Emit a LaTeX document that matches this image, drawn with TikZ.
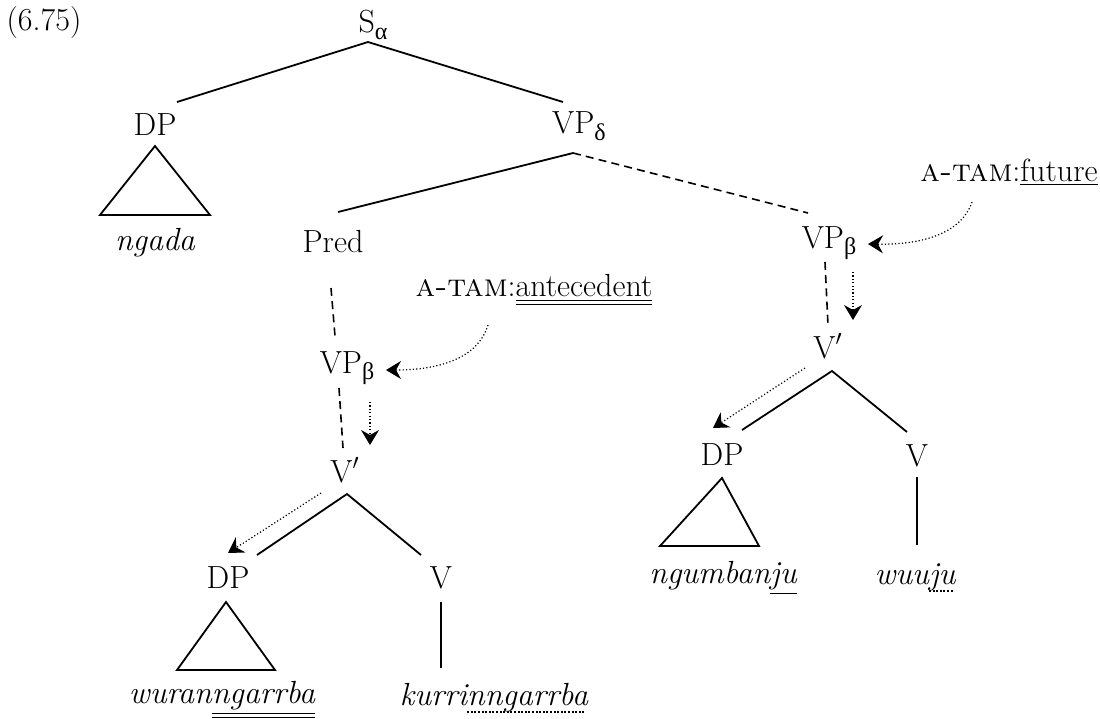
\documentclass[tikz,border=0pt]{standalone}
\usepackage{fontspec}
\newfontfamily\grk{Liberation Serif}
\usetikzlibrary{arrows.meta}
\newcommand\myul[1]{\underline{#1}}
\newcommand\myuul[1]{\underline{\underline{#1}}}
\newcommand\mydotul[1]{\setbox0\hbox{#1}\leavevmode\rlap{\raisebox{-3.6pt}{\hbox to \wd0{\leaders\hbox to 1.8pt{\rule{1pt}{1pt}\hss}\hfill}}}\box0}
\newcommand\gsub[1]{\raisebox{-3.2pt}{\fontsize{12}{12}\selectfont\grk #1}}
\tikzset{
  lbl/.style={inner sep=0pt, font=\fontsize{16}{19}\selectfont},
  edge/.style={line width=0.9pt},
  dashedge/.style={line width=0.8pt, dash pattern=on 4pt off 2.6pt},
  dotarrow/.style={line width=0.6pt, dash pattern=on 0.6pt off 1.1pt,
     -{Stealth[length=7.5pt,width=9pt,inset=2.5pt]}},
  tri/.style={line width=0.9pt, line join=miter}
}
\begin{document}
\begin{tikzpicture}[x=0.5pt,y=-0.5pt]
\useasboundingbox (0,0) rectangle (1100,719);
% nodes
\node[lbl] (num) at (44,23) {(6.75)};
\node[lbl] (S) at (373,25) {S\gsub{α}};
\node[lbl] (DPa) at (155,125) {DP};
\node[lbl] (VPd) at (579,126) {VP\gsub{δ}};
\node[lbl] (ngada) at (155,243) {\itshape ngada};
\node[lbl] (Pred) at (333,242) {Pred};
\node[lbl] (VPb1) at (347,368) {VP\gsub{β}};
\node[lbl] (ant) at (534,290) {\textsc{a-tam}:\myuul{antecedent}};
\node[lbl] (Vp1) at (345,470) {V$'$};
\node[lbl] (DPb) at (228,578) {DP};
\node[lbl] (V1) at (441,578) {V};
\node[lbl] (wur) at (222,700) {\itshape wuran\myuul{ngarrba}};
\node[lbl] (kur) at (494,698) {\itshape kurri\mydotul{nngarrba}};
\node[lbl] (VPb2) at (829,243) {VP\gsub{β}};
\node[lbl] (fut) at (1009,172) {\textsc{a-tam}:\myul{future}};
\node[lbl] (Vp2) at (828,346) {V$'$};
\node[lbl] (DPc) at (722,455) {DP};
\node[lbl] (V2) at (917,456) {V};
\node[lbl] (ngu) at (723,578) {\itshape ngumban\myul{ju}};
\node[lbl] (wuu) at (915,578) {\itshape wuu\mydotul{ju}};
% connection points
\coordinate (Sb) at (368,42);
\coordinate (DPat) at (177,102);
\coordinate (VPdt) at (563,102);
\coordinate (VPdb) at (573,153);
\coordinate (Predt) at (338,212);
\coordinate (VPb2t) at (808,213);
\coordinate (Predb) at (331,288);
\coordinate (VPb1t) at (335,336);
\coordinate (VPb1b) at (339,388);
\coordinate (Vp1t) at (343,448);
\coordinate (Vp1b) at (347,494);
\coordinate (DPbt) at (257,555);
\coordinate (V1t) at (421,555);
\coordinate (VPb2b) at (825,262);
\coordinate (Vp2t) at (828,325);
\coordinate (Vp2b) at (832,371);
\coordinate (DPct) at (742,430);
\coordinate (V2t) at (907,432);
% edges
\draw[edge] (Sb) -- (DPat);
\draw[edge] (Sb) -- (VPdt);
\draw[edge] (VPdb) -- (Predt);
\draw[dashedge] (VPdb) -- (VPb2t);
\draw[dashedge] (Predb) -- (VPb1t);
\draw[dashedge] (VPb1b) -- (Vp1t);
\draw[edge] (DPbt) -- (Vp1b) -- (V1t);
\draw[dashedge] (VPb2b) -- (Vp2t);
\draw[edge] (DPct) -- (Vp2b) -- (V2t);
% triangles and unary lines
\draw[tri] (155,146) -- (100,215) -- (210,215) -- cycle;
\draw[tri] (226,602) -- (177,670) -- (275,670) -- cycle;
\draw[tri] (722,478) -- (660,546) -- (759,546) -- cycle;
\coordinate (V1b) at (441,602); \coordinate (k1t) at (441,668);
\draw[edge] (V1b) -- (k1t);
\coordinate (V2b) at (917,477); \coordinate (w2t) at (917,545);
\draw[edge] (V2b) -- (w2t);
% dotted arrows
\coordinate (a1s) at (370,402); \coordinate (a1e) at (370,445);
\draw[dotarrow] (a1s) -- (a1e);
\coordinate (a2s) at (321,493); \coordinate (a2e) at (228,553);
\draw[dotarrow] (a2s) -- (a2e);
\coordinate (a3s) at (853,272); \coordinate (a3e) at (853,320);
\draw[dotarrow] (a3s) -- (a3e);
\coordinate (a4s) at (805,368); \coordinate (a4e) at (713,428);
\draw[dotarrow] (a4s) -- (a4e);
\coordinate (fs) at (972,202); \coordinate (fe) at (868,244);
\draw[dotarrow] (fs) .. controls (962,232) and (925,245) .. (fe);
\coordinate (as) at (488,325); \coordinate (ae) at (386,370);
\draw[dotarrow] (as) .. controls (478,358) and (440,370) .. (ae);
\end{tikzpicture}
\end{document}
